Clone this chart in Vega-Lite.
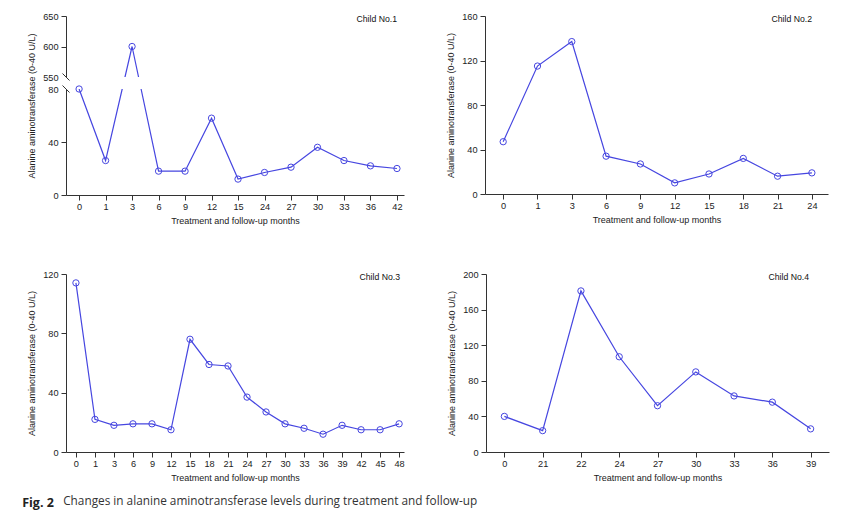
{
  "$schema": "https://vega.github.io/schema/vega-lite/v6.json",
  "background": "white",
  "padding": {"left": 22, "top": 12, "right": 5, "bottom": 4},
  "config": {
    "view": {"stroke": null},
    "font": "Liberation Sans",
    "axis": {
      "grid": false,
      "domainColor": "#333333",
      "tickColor": "#333333",
      "labelColor": "#222222",
      "titleColor": "#222222",
      "labelFont": "Liberation Sans",
      "titleFont": "Liberation Sans",
      "labelFontSize": 9.2,
      "titleFontSize": 9,
      "titleFontWeight": "normal",
      "labelOverlap": false,
      "tickSize": 5,
      "domainWidth": 1,
      "tickWidth": 1
    },
    "axisX": {"labelAngle": 0, "labelPadding": 2, "titlePadding": 5},
    "axisY": {"labelPadding": 3, "titlePadding": 6}
  },
  "datasets": {
    "c1": [
      {"month": 0, "ALT": 80}, {"month": 1, "ALT": 26}, {"month": 3, "ALT": 600},
      {"month": 6, "ALT": 18}, {"month": 9, "ALT": 18}, {"month": 12, "ALT": 58},
      {"month": 15, "ALT": 12}, {"month": 24, "ALT": 17}, {"month": 27, "ALT": 21},
      {"month": 30, "ALT": 36}, {"month": 33, "ALT": 26}, {"month": 36, "ALT": 22},
      {"month": 42, "ALT": 20}
    ],
    "c2": [
      {"month": 0, "ALT": 47}, {"month": 1, "ALT": 115}, {"month": 3, "ALT": 137},
      {"month": 6, "ALT": 34}, {"month": 9, "ALT": 27}, {"month": 12, "ALT": 10},
      {"month": 15, "ALT": 18}, {"month": 18, "ALT": 32}, {"month": 21, "ALT": 16},
      {"month": 24, "ALT": 19}
    ],
    "c3": [
      {"month": 0, "ALT": 114}, {"month": 1, "ALT": 22}, {"month": 3, "ALT": 18},
      {"month": 6, "ALT": 19}, {"month": 9, "ALT": 19}, {"month": 12, "ALT": 15},
      {"month": 15, "ALT": 76}, {"month": 18, "ALT": 59}, {"month": 21, "ALT": 58},
      {"month": 24, "ALT": 37}, {"month": 27, "ALT": 27}, {"month": 30, "ALT": 19},
      {"month": 33, "ALT": 16}, {"month": 36, "ALT": 12}, {"month": 39, "ALT": 18},
      {"month": 42, "ALT": 15}, {"month": 45, "ALT": 15}, {"month": 48, "ALT": 19}
    ],
    "c4": [
      {"month": 0, "ALT": 40}, {"month": 21, "ALT": 24}, {"month": 22, "ALT": 181},
      {"month": 24, "ALT": 107}, {"month": 27, "ALT": 52}, {"month": 30, "ALT": 90},
      {"month": 33, "ALT": 63}, {"month": 36, "ALT": 56}, {"month": 39, "ALT": 26}
    ],
    "breaks": [{"b": 80}, {"b": 550}]
  },
  "title": {
    "text": "Changes in alanine aminotransferase levels during treatment and follow-up",
    "orient": "bottom", "anchor": "start", "dx": 41, "offset": -14,
    "font": "Open Sans", "fontSize": 11.8, "fontWeight": "normal", "color": "#333333", "baseline": "top"
  },
  "vconcat": [
    {
      "title": {
        "text": "Fig. 2", "orient": "bottom", "anchor": "start", "dx": -5.5, "offset": 15,
        "font": "Open Sans", "fontSize": 12.5, "fontWeight": "bold", "color": "#222222", "baseline": "top"
      },
      "spacing": 44,
      "vconcat": [
        {
          "spacing": 42,
          "hconcat": [
            {
              "width": 338, "height": 179,
              "title": {"text": "Child No.1", "anchor": "end", "frame": "group", "offset": -12, "dx": -7, "fontSize": 8.7, "fontWeight": "normal", "font": "Liberation Sans", "color": "#111111"},
              "data": {"name": "c1"},
              "layer": [
                {
                  "mark": {"type": "line", "color": "#4646e0", "strokeWidth": 1.2},
                  "encoding": {
                    "x": {"field": "month", "type": "ordinal", "sort": null, "title": "Treatment and follow-up months", "scale": {"padding": 0.38, "align": 0.65}},
                    "y": {"field": "ALT", "type": "quantitative", "title": "Alanine aminotransferase (0-40 U/L)",
                      "scale": {"domain": [0, 80, 550, 650], "range": [179, 73, 61, 0], "nice": false, "zero": false},
                      "axis": {"values": [0, 40, 80, 550, 600, 650], "tickCount": 20, "tickOpacity": {"condition": {"test": "datum.value == 80 || datum.value == 550", "value": 0}, "value": 1}}}
                  }
                },
                {
                  "mark": {"type": "rect", "color": "white"},
                  "encoding": {
                    "y": {"datum": 81, "type": "quantitative", "title": "Alanine aminotransferase (0-40 U/L)"},
                    "y2": {"datum": 549}
                  }
                },
                {
                  "data": {"name": "breaks"},
                  "mark": {"type": "point", "shape": "M-1,-1L1,1", "size": 49, "filled": false, "stroke": "#333333", "strokeWidth": 1, "opacity": 1},
                  "encoding": {
                    "x": {"value": 0},
                    "y": {"field": "b", "type": "quantitative", "title": "Alanine aminotransferase (0-40 U/L)"}
                  }
                },
                {
                  "mark": {"type": "point", "shape": "circle", "filled": false, "size": 40, "color": "#4646e0", "strokeWidth": 1, "opacity": 1},
                  "encoding": {
                    "x": {"field": "month", "type": "ordinal", "sort": null, "title": "Treatment and follow-up months"},
                    "y": {"field": "ALT", "type": "quantitative", "title": "Alanine aminotransferase (0-40 U/L)"}
                  }
                }
              ]
            },
            {
              "width": 343, "height": 178,
              "title": {"text": "Child No.2", "anchor": "end", "frame": "group", "offset": -12, "dx": -16, "fontSize": 8.7, "fontWeight": "normal", "font": "Liberation Sans", "color": "#111111"},
              "data": {"name": "c2"},
              "layer": [
                {
                  "mark": {"type": "line", "color": "#4646e0", "strokeWidth": 1.2},
                  "encoding": {
                    "x": {"field": "month", "type": "ordinal", "sort": null, "title": "Treatment and follow-up months", "scale": {"padding": 0.5, "align": 0.53}},
                    "y": {"field": "ALT", "type": "quantitative", "title": "Alanine aminotransferase (0-40 U/L)",
                      "scale": {"domain": [0, 160], "nice": false}, "axis": {"values": [0, 40, 80, 120, 160], "tickCount": 20}}
                  }
                },
                {
                  "mark": {"type": "point", "shape": "circle", "filled": false, "size": 40, "color": "#4646e0", "strokeWidth": 1, "opacity": 1},
                  "encoding": {
                    "x": {"field": "month", "type": "ordinal", "sort": null, "title": "Treatment and follow-up months"},
                    "y": {"field": "ALT", "type": "quantitative", "title": "Alanine aminotransferase (0-40 U/L)"}
                  }
                }
              ]
            }
          ]
        },
        {
          "spacing": 42,
          "hconcat": [
            {
              "width": 338, "height": 178,
              "title": {"text": "Child No.3", "anchor": "end", "frame": "group", "offset": -12, "dx": -4, "fontSize": 8.7, "fontWeight": "normal", "font": "Liberation Sans", "color": "#111111"},
              "data": {"name": "c3"},
              "layer": [
                {
                  "mark": {"type": "line", "color": "#4646e0", "strokeWidth": 1.2},
                  "encoding": {
                    "x": {"field": "month", "type": "ordinal", "sort": null, "title": "Treatment and follow-up months", "scale": {"padding": 0.39, "align": 0.67}},
                    "y": {"field": "ALT", "type": "quantitative", "title": "Alanine aminotransferase (0-40 U/L)",
                      "scale": {"domain": [0, 120], "nice": false}, "axis": {"values": [0, 40, 80, 120], "tickCount": 20}}
                  }
                },
                {
                  "mark": {"type": "point", "shape": "circle", "filled": false, "size": 40, "color": "#4646e0", "strokeWidth": 1, "opacity": 1},
                  "encoding": {
                    "x": {"field": "month", "type": "ordinal", "sort": null, "title": "Treatment and follow-up months"},
                    "y": {"field": "ALT", "type": "quantitative", "title": "Alanine aminotransferase (0-40 U/L)"}
                  }
                }
              ]
            },
            {
              "width": 343, "height": 178,
              "title": {"text": "Child No.4", "anchor": "end", "frame": "group", "offset": -12, "dx": -20, "fontSize": 8.7, "fontWeight": "normal", "font": "Liberation Sans", "color": "#111111"},
              "data": {"name": "c4"},
              "layer": [
                {
                  "mark": {"type": "line", "color": "#4646e0", "strokeWidth": 1.2},
                  "encoding": {
                    "x": {"field": "month", "type": "ordinal", "sort": null, "title": "Treatment and follow-up months", "scale": {"padding": 0.48, "align": 0.5}},
                    "y": {"field": "ALT", "type": "quantitative", "title": "Alanine aminotransferase (0-40 U/L)",
                      "scale": {"domain": [0, 200], "nice": false}, "axis": {"values": [0, 40, 80, 120, 160, 200], "tickCount": 20}}
                  }
                },
                {
                  "mark": {"type": "point", "shape": "circle", "filled": false, "size": 40, "color": "#4646e0", "strokeWidth": 1, "opacity": 1},
                  "encoding": {
                    "x": {"field": "month", "type": "ordinal", "sort": null, "title": "Treatment and follow-up months"},
                    "y": {"field": "ALT", "type": "quantitative", "title": "Alanine aminotransferase (0-40 U/L)"}
                  }
                }
              ]
            }
          ]
        }
      ]
    }
  ]
}
